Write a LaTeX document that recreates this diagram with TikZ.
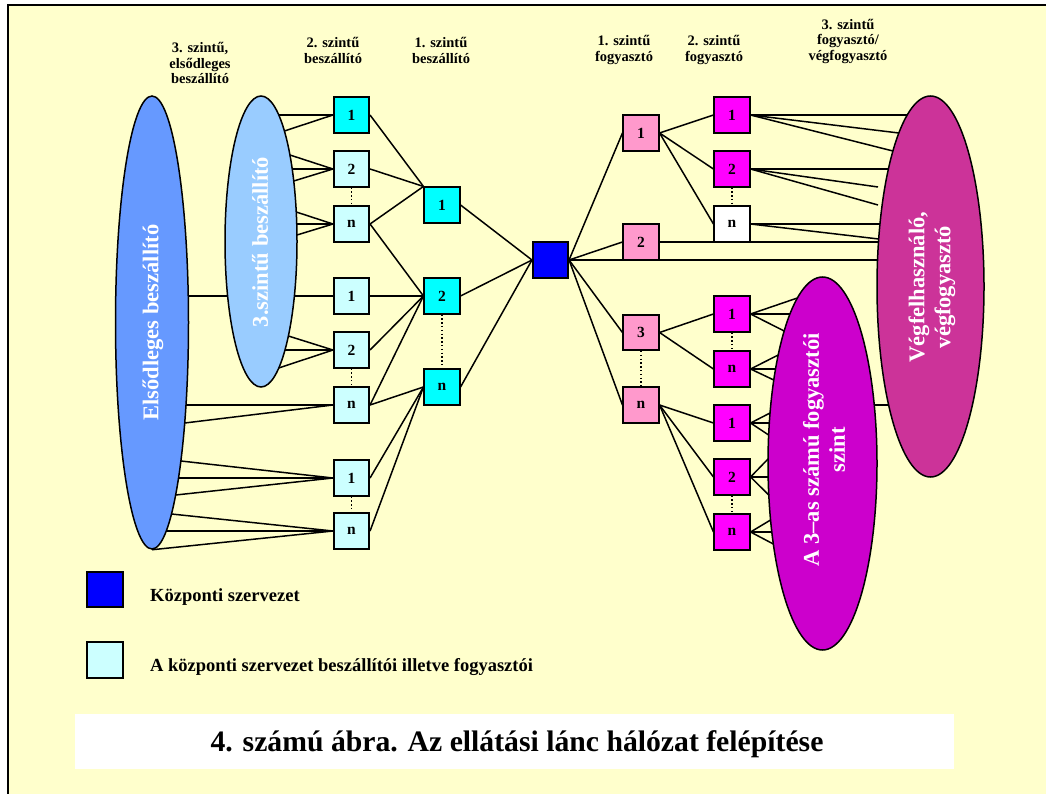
\documentclass[tikz,border=0pt]{standalone}
\usepackage{fontspec}
\setmainfont{Liberation Serif}
\usetikzlibrary{shapes.geometric}
\definecolor{bgy}{HTML}{FFFFCC}
\definecolor{eone}{HTML}{6699FF}
\definecolor{etwo}{HTML}{99CCFF}
\definecolor{cyanbox}{HTML}{00FFFF}
\definecolor{lcyan}{HTML}{CCFFFF}
\definecolor{cblue}{HTML}{0000FF}
\definecolor{pinkbox}{HTML}{FF99CC}
\definecolor{magbox}{HTML}{FF00FF}
\definecolor{eright}{HTML}{CC3399}
\definecolor{epurple}{HTML}{CC00CC}
\pgfdeclarelayer{back}
\pgfdeclarelayer{mid}
\pgfsetlayers{back,mid,main}
\tikzset{
 box/.style={draw, line width=1.6pt, minimum size=35.5pt, inner sep=0pt, font=\fontsize{15.5}{15.5}\selectfont\bfseries},
 conn/.style={line width=1.5pt},
 dots/.style={line width=1.4pt, dash pattern=on 1.4pt off 2.4pt},
 ell/.style={draw, ellipse, line width=1.5pt, inner sep=0pt},
 elltext/.style={rotate=90, text=white, align=center, inner sep=0pt, font=\fontsize{22.5}{26}\selectfont\bfseries},
 head/.style={align=center, inner sep=0pt, font=\fontsize{14.5}{15.5}\selectfont\bfseries},
 legtext/.style={anchor=base west, inner sep=0pt, font=\fontsize{18.5}{20}\selectfont\bfseries},
}
\begin{document}
\begin{tikzpicture}[x=1pt,y=-1pt]
\useasboundingbox (0,0) rectangle (1046,794);

% ---------- boxes (main layer) ----------
\node[box, fill=cyanbox] (A1) at (351.5,115) {1};
\node[box, fill=lcyan] (A2) at (351.5,169) {2};
\node[box, fill=lcyan] (A3) at (351.5,224) {n};
\node[box, fill=lcyan] (A4) at (351.5,296) {1};
\node[box, fill=lcyan] (A5) at (351.5,350) {2};
\node[box, fill=lcyan] (A6) at (351.5,405) {n};
\node[box, fill=lcyan] (A7) at (351.5,478) {1};
\node[box, fill=lcyan] (A8) at (351.5,531) {n};

\node[box, fill=cyanbox] (B1) at (442,205) {1};
\node[box, fill=cyanbox] (B2) at (442,296) {2};
\node[box, fill=cyanbox] (B3) at (442,387) {n};

\node[box, fill=cblue] (Z) at (550.5,260) {};

\node[box, fill=pinkbox] (C1) at (641,133) {1};
\node[box, fill=pinkbox] (C2) at (641,242) {2};
\node[box, fill=pinkbox] (C3) at (641,332.5) {3};
\node[box, fill=pinkbox] (C4) at (641,405) {n};

\node[box, fill=magbox] (D1) at (732,115) {1};
\node[box, fill=magbox] (D2) at (732,169) {2};
\node[box, fill=white] (D3) at (732,224) {n};
\node[box, fill=magbox] (D4) at (732,314) {1};
\node[box, fill=magbox] (D5) at (732,369) {n};
\node[box, fill=magbox] (D6) at (732,423) {1};
\node[box, fill=magbox] (D7) at (732,477) {2};
\node[box, fill=magbox] (D8) at (732,532) {n};

% ---------- background and ellipses ----------
\begin{pgfonlayer}{back}
\fill[white] (0,0) rectangle (1046,794);
\fill[bgy] (8,5) rectangle (1046,794);
\draw[line width=1.5pt] (8,794) -- (8,5) -- (1046,5);
\node[ell, fill=eone, minimum width=73, minimum height=453] (E1) at (152,322.5) {};
\node[ell, fill=etwo, minimum width=72, minimum height=291] (E2) at (261,241.5) {};
\node[ell, fill=eright, minimum width=107, minimum height=381] (ER) at (930.5,286.5) {};
\node[ell, fill=epurple, minimum width=109, minimum height=373] (EP) at (822.5,463.5) {};
\fill[white] (75,714) rectangle (954,769);
\end{pgfonlayer}

% ---------- connectors ----------
\begin{pgfonlayer}{mid}
% 3.szintu ellipse -> 2nd level suppliers
\foreach \y/\b in {115/A1,131/A1,155/A2,169/A2,181/A2,212/A3,224/A3,235/A3,296/A4,336/A5,350/A5,368/A5}{
  \coordinate (r) at ({261+36*sqrt(1-((\y-241.5)/145.5)^2)},\y);
  \draw[conn] (r) -- (\b.west);
}
% elsodleges ellipse -> 2nd level suppliers
\foreach \y/\b in {405/A6,423/A6,461/A7,478/A7,495/A7,514/A8,531/A8}{
  \coordinate (r) at ({152+36.5*sqrt(1-((\y-322.5)/226.5)^2)},\y);
  \draw[conn] (r) -- (\b.west);
}
\draw[conn] (E1.south) -- (A8.west);
\coordinate (p1) at ({152+36.5*sqrt(1-((296-322.5)/226.5)^2)},296);
\coordinate (p2) at ({261-36*sqrt(1-((296-241.5)/145.5)^2)},296);
\draw[conn] (p1) -- (p2);
% 2nd level -> 1st level suppliers
\foreach \a in {A1,A2,A3}{\draw[conn] (\a.east) -- (B1.north west);}
\foreach \a in {A3,A4,A5,A6}{\draw[conn] (\a.east) -- (B2.west);}
\foreach \a in {A6,A7,A8}{\draw[conn] (\a.east) -- (B3.west);}
% 1st level suppliers -> centre
\foreach \b in {B1,B2,B3}{\draw[conn] (\b.east) -- (Z.west);}
% centre -> 1st level consumers
\foreach \c in {C1,C2,C3,C4}{\draw[conn] (Z.east) -- (\c.west);}
% 1st -> 2nd level consumers
\foreach \d in {D1,D2,D3}{\draw[conn] (C1.east) -- (\d.west);}
\foreach \d in {D4,D5}{\draw[conn] (C3.east) -- (\d.west);}
\foreach \d in {D6,D7,D8}{\draw[conn] (C4.east) -- (\d.west);}
% to end-user ellipse
\foreach \y/\b in {260/Z,242/C2,115/D1,133/D1,151/D1,169/D2,224/D3,239/D3}{
  \coordinate (r) at ({930.5-53.5*sqrt(1-((\y-286.5)/190.5)^2)},\y);
  \draw[conn] (\b.east) -- (r);
}
\coordinate (g1) at (878,187);
\coordinate (g2) at (878,205);
\draw[conn] (D2.east) -- (g1);
\draw[conn] (D2.east) -- (g2);
% to 3rd level consumer ellipse
\foreach \y/\b in {298/D4,314/D4,331/D4,355/D5,369/D5,380/D5,413/D6,423/D6,435/D6,459/D7,477/D7,495/D7,520/D8,532/D8,544/D8}{
  \coordinate (r) at ({822.5-54.5*sqrt(1-((\y-463.5)/186.5)^2)},\y);
  \draw[conn] (\b.east) -- (r);
}
\coordinate (q1) at ({822.5+54.5*sqrt(1-((405-463.5)/186.5)^2)},405);
\coordinate (q2) at ({930.5-53.5*sqrt(1-((405-286.5)/190.5)^2)},405);
\draw[conn] (q1) -- (q2);
\end{pgfonlayer}

% ---------- dotted links ----------
\draw[dots] (A2.south) -- (A3.north);
\draw[dots] (A5.south) -- (A6.north);
\draw[dots] (A7.south) -- (A8.north);
\draw[dots] (B2.south) -- (B3.north);
\draw[dots] (C3.south) -- (C4.north);
\draw[dots] (D2.south) -- (D3.north);
\draw[dots] (D4.south) -- (D5.north);
\draw[dots] (D7.south) -- (D8.north);

% ---------- ellipse texts ----------
\node[elltext] (t1) at (153,322.5) {Elsődleges beszállító};
\node[elltext] (t2) at (260,242) {3.szintű beszállító};
\node[elltext] (t3) at (932,287) {Végfelhasználó,\\végfogyasztó};
\node[elltext] (t4) at (824,450) {A 3–as számú fogyasztói\\szint};

% ---------- headers ----------
\node[head] (h1) at (200,63) {3. szintű,\\elsődleges\\beszállító};
\node[head] (h2) at (333,50.5) {2. szintű\\beszállító};
\node[head] (h3) at (441,50.5) {1. szintű\\beszállító};
\node[head] (h4) at (624,50) {1. szintű\\fogyasztó};
\node[head] (h5) at (714,50) {2. szintű\\fogyasztó};
\node[head] (h6) at (848,41.3) {3. szintű\\fogyasztó/\\végfogyasztó};

% ---------- legend ----------
\node[box, fill=cblue] (L1) at (105,589.5) {};
\node[box, fill=lcyan] (L2) at (105,660) {};
\node[legtext] (L1t) at (150,601) {Központi szervezet};
\node[legtext] (L2t) at (150,671) {A központi szervezet beszállítói illetve fogyasztói};

% ---------- title ----------
\node[anchor=base, inner sep=0pt, font=\fontsize{29.7}{30}\selectfont\bfseries] (title) at (517,751) {4. számú ábra. Az ellátási lánc hálózat felépítése};
\end{tikzpicture}
\end{document}
